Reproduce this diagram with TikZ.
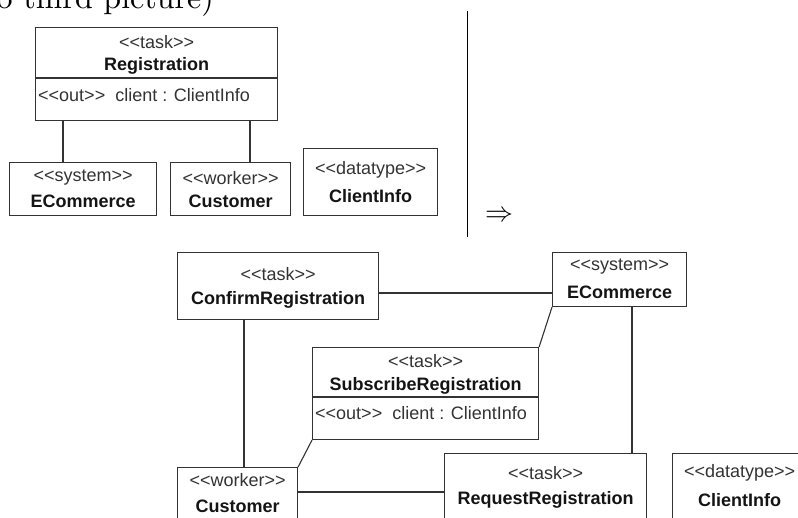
\documentclass[tikz,border=0pt]{standalone}
\usepackage{fontspec}
\usepackage{graphicx}
\newfontfamily\umlfont{Liberation Sans}
\usetikzlibrary{calc}
% guillemet-free stereotype brackets (a kern keeps << and >> from being merged)
\newcommand{\stl}{<\kern0pt<}
\newcommand{\str}{>\kern0pt>}
\begin{document}
\begin{tikzpicture}[x=1pt,y=-1pt,
  box/.style={draw=black!80, line width=1.1pt, rectangle, inner sep=0pt, anchor=north west},
  stereo/.style={font=\umlfont\fontsize{18}{20}\selectfont, text=black!80, inner sep=0pt},
  cname/.style={font=\umlfont\bfseries\fontsize{18}{20}\selectfont, text=black!92, inner sep=0pt},
  attr/.style={font=\umlfont\fontsize{18}{20}\selectfont, text=black!80, inner sep=0pt, anchor=west},
  link/.style={draw=black!80, line width=1.1pt},
]
\useasboundingbox (0,0) rectangle (798,518);
\clip (0,0) rectangle (798,518);

% heading line running into the top edge
\node[anchor=base east, inner sep=0pt] (caption) at (214,9) {\scalebox{3.2}{to third picture)}};

% ---------- left diagram ----------
\node[box, minimum width=242pt, minimum height=93pt] (reg) at (35,27) {};
\draw[link] ([yshift=-51pt]reg.north west) -- ([yshift=-51pt]reg.north east);
\node[stereo] (regS) at ($(reg.north)+(0,15)$) {\stl task\str};
\node[cname]  (regN) at ($(reg.north)+(0,39)$) {Registration};
\node[attr]   (regA) at ($(reg.north west)+(3,68)$) {\stl out\str\ \ client : ClientInfo};

\node[box, minimum width=147pt, minimum height=53pt] (ecA) at (9,162) {};
\node[stereo] at ($(ecA.north)+(0,16)$) {\stl system\str};
\node[cname]  at ($(ecA.north)+(0,39)$) {ECommerce};

\node[box, minimum width=120pt, minimum height=53pt] (cuA) at (170,162) {};
\node[stereo] at ($(cuA.north)+(0,16)$) {\stl worker\str};
\node[cname]  at ($(cuA.north)+(0,39)$) {Customer};

\node[box, minimum width=134pt, minimum height=67pt] (ciA) at (303,148) {};
\node[stereo] at ($(ciA.north)+(0,22)$) {\stl datatype\str};
\node[cname]  at ($(ciA.north)+(0,48)$) {ClientInfo};

\draw[link] ([xshift=28pt]reg.south west) -- ([xshift=28pt]reg.south west |- ecA.north);
\draw[link] ([xshift=215pt]reg.south west) -- ([xshift=215pt]reg.south west |- cuA.north);

% ---------- separator and transformation arrow ----------
\coordinate (sepTop) at (467.5,11);
\coordinate (sepBot) at (467.5,237);
\draw[line width=1.2pt] (sepTop) -- (sepBot);
\node[inner sep=0pt] (arrow) at (499,216) {\scalebox{2.8}{$\Rightarrow$}};

% ---------- right diagram ----------
\node[box, minimum width=201pt, minimum height=67pt] (conf) at (177,252) {};
\node[stereo] at ($(conf.north)+(0,22)$) {\stl task\str};
\node[cname]  at ($(conf.north)+(0,48)$) {ConfirmRegistration};

\node[box, minimum width=134pt, minimum height=54pt] (ecB) at (552,252) {};
\node[stereo] at ($(ecB.north)+(0,15)$) {\stl system\str};
\node[cname]  at ($(ecB.north)+(0,40)$) {ECommerce};

\node[box, minimum width=226pt, minimum height=92pt] (sub) at (312,347) {};
\draw[link] ([yshift=-50pt]sub.north west) -- ([yshift=-50pt]sub.north east);
\node[stereo] at ($(sub.north)+(0,14)$) {\stl task\str};
\node[cname]  at ($(sub.north)+(0,39)$) {SubscribeRegistration};
\node[attr]   at ($(sub.north west)+(3,66)$) {\stl out\str\ \ client : ClientInfo};

\node[box, minimum width=120pt, minimum height=90pt] (cust) at (177,467) {};
\node[stereo] at ($(cust.north)+(0,13)$) {\stl worker\str};
\node[cname]  at ($(cust.north)+(0,39)$) {Customer};

\node[box, minimum width=202pt, minimum height=90pt] (req) at (444,453) {};
\node[stereo] at ($(req.north)+(0,20)$) {\stl task\str};
\node[cname]  at ($(req.north)+(0,47)$) {RequestRegistration};

\node[box, minimum width=134pt, minimum height=90pt] (ciB) at (672,453) {};
\node[stereo] at ($(ciB.north)+(0,20)$) {\stl datatype\str};
\node[cname]  at ($(ciB.north)+(0,47)$) {ClientInfo};

\draw[link] ([yshift=-41pt]conf.north east) -- ([yshift=-41pt]conf.north east -| ecB.west);
\draw[link] ([xshift=67pt]conf.south west) -- ([xshift=67pt]conf.south west |- cust.north);
\draw[link] (ecB.south west) -- (sub.north east);
\draw[link] (sub.south west) -- (cust.north east);
\draw[link] ([xshift=80pt]ecB.south west) -- ([xshift=80pt]ecB.south west |- req.north);
\draw[link] ([yshift=-25pt]cust.north east) -- ([yshift=-25pt]cust.north east -| req.west);
\end{tikzpicture}
\end{document}
